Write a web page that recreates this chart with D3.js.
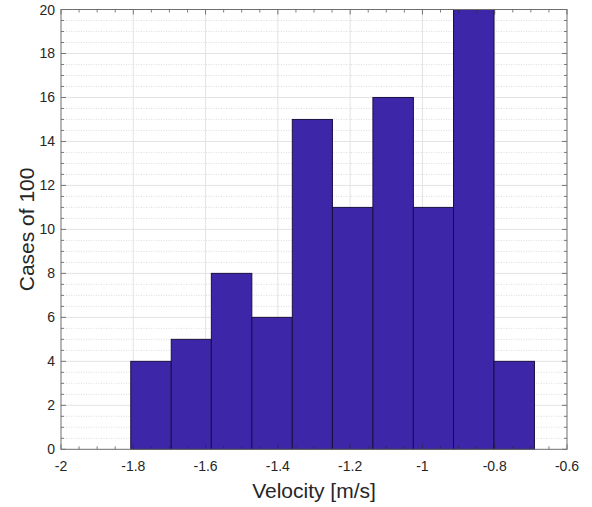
<!DOCTYPE html>
<html>
<head>
<meta charset="utf-8">
<script src="https://cdn.jsdelivr.net/npm/d3@7"></script>
<style>
  body { margin: 0; background: #fff; }
  text { font-family: "Liberation Sans", Arial, sans-serif; }
</style>
</head>
<body>
<script>
// histogram bin edges (m/s) and counts
const binEdges = [-1.807, -1.695, -1.584, -1.472, -1.360, -1.249, -1.137, -1.025, -0.914, -0.802, -0.690];
const counts = [4, 5, 8, 6, 15, 11, 16, 11, 20, 4];
const xTicks = [-2, -1.8, -1.6, -1.4, -1.2, -1, -0.8, -0.6];
const yTicks = [0, 2, 4, 6, 8, 10, 12, 14, 16, 18, 20];

const w = 592, h = 507;
const padL = 61, padR = 567, padT = 9.5, padB = 449.3;

const barColor = "#3d26a8";
const axisColor = "#262626";

const svg = d3.select("body").append("svg")
  .attr("width", w)
  .attr("height", h);

const x = d3.scaleLinear().domain([-2, -0.6]).range([padL, padR]);
const y = d3.scaleLinear().domain([0, 20]).range([padB, padT]);

// minor ticks
const xMinor = d3.range(-2, -0.6 + 1e-9, 0.05).filter(v => !xTicks.some(t => Math.abs(t - v) < 1e-6));
const yMinor = d3.range(0, 20 + 1e-9, 0.5).filter(v => !yTicks.some(t => Math.abs(t - v) < 1e-6));

const grid = svg.append("g");

// minor y grid (dotted)
grid.selectAll(".ymin")
  .data(yMinor)
  .enter()
  .append("line")
  .attr("x1", padL).attr("x2", padR)
  .attr("y1", d => y(d)).attr("y2", d => y(d))
  .attr("stroke", "#d4d4d4")
  .attr("stroke-width", 0.8)
  .attr("stroke-dasharray", "1,1.5");

// major grid
grid.selectAll(".ymaj")
  .data(yTicks.slice(1, -1))
  .enter()
  .append("line")
  .attr("x1", padL).attr("x2", padR)
  .attr("y1", d => y(d)).attr("y2", d => y(d))
  .attr("stroke", "#e3e3e3");

grid.selectAll(".xmaj")
  .data(xTicks.slice(1, -1))
  .enter()
  .append("line")
  .attr("y1", padT).attr("y2", padB)
  .attr("x1", d => x(d)).attr("x2", d => x(d))
  .attr("stroke", "#e3e3e3");

// bars
svg.append("g")
  .selectAll("rect")
  .data(counts)
  .enter()
  .append("rect")
  .attr("x", (d, i) => x(binEdges[i]))
  .attr("width", (d, i) => x(binEdges[i + 1]) - x(binEdges[i]))
  .attr("y", d => y(d))
  .attr("height", d => y(0) - y(d))
  .attr("fill", barColor)
  .attr("stroke", "#1a1040")
  .attr("stroke-width", 1);

// axes (inward ticks, box on)
const ax = svg.append("g");

function tickLines(vals, len, isX) {
  vals.forEach(v => {
    if (isX) {
      ax.append("line").attr("x1", x(v)).attr("x2", x(v)).attr("y1", padB).attr("y2", padB - len)
        .attr("stroke", axisColor).attr("stroke-width", 0.6);
      ax.append("line").attr("x1", x(v)).attr("x2", x(v)).attr("y1", padT).attr("y2", padT + len)
        .attr("stroke", axisColor).attr("stroke-width", 0.6);
    } else {
      ax.append("line").attr("y1", y(v)).attr("y2", y(v)).attr("x1", padL).attr("x2", padL + len)
        .attr("stroke", axisColor).attr("stroke-width", 0.6);
      ax.append("line").attr("y1", y(v)).attr("y2", y(v)).attr("x1", padR).attr("x2", padR - len)
        .attr("stroke", axisColor).attr("stroke-width", 0.6);
    }
  });
}
tickLines(xTicks, 5, true);
tickLines(xMinor, 3, true);
tickLines(yTicks, 5, false);
tickLines(yMinor, 3, false);

ax.append("rect")
  .attr("x", padL).attr("y", padT)
  .attr("width", padR - padL).attr("height", padB - padT)
  .attr("fill", "none")
  .attr("stroke", "#6e6e6e")
  .attr("stroke-width", 1);

// tick labels (plain hyphen minus like the original)
ax.selectAll(".xl")
  .data(xTicks)
  .enter()
  .append("text")
  .attr("x", d => x(d))
  .attr("y", padB + 22)
  .attr("text-anchor", "middle")
  .attr("font-size", 14)
  .attr("fill", axisColor)
  .text(d => String(d));

ax.selectAll(".yl")
  .data(yTicks)
  .enter()
  .append("text")
  .attr("x", padL - 6)
  .attr("y", d => y(d) + 5)
  .attr("text-anchor", "end")
  .attr("font-size", 14)
  .attr("fill", axisColor)
  .text(d => d);

// axis titles
svg.append("text")
  .attr("x", (padL + padR) / 2)
  .attr("y", 498)
  .attr("text-anchor", "middle")
  .attr("font-size", 21)
  .attr("fill", axisColor)
  .text("Velocity [m/s]");

svg.append("text")
  .attr("transform", "translate(34," + ((padT + padB) / 2) + ") rotate(-90)")
  .attr("text-anchor", "middle")
  .attr("font-size", 21)
  .attr("fill", axisColor)
  .text("Cases of 100");
</script>
</body>
</html>
